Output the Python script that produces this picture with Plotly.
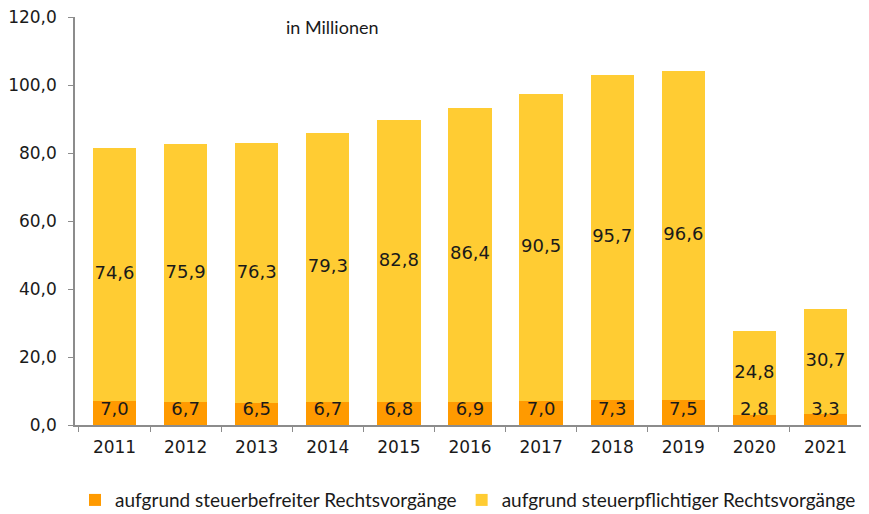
import plotly.graph_objects as go

years = ["2011", "2012", "2013", "2014", "2015", "2016", "2017", "2018", "2019", "2020", "2021"]
befreit = [7.0, 6.7, 6.5, 6.7, 6.8, 6.9, 7.0, 7.3, 7.5, 2.8, 3.3]
pflichtig = [74.6, 75.9, 76.3, 79.3, 82.8, 86.4, 90.5, 95.7, 96.6, 24.8, 30.7]
name_befreit = "aufgrund steuerbefreiter Rechtsvorgänge"
name_pflichtig = "aufgrund steuerpflichtiger Rechtsvorgänge"

ORANGE = "#FF9A00"
YELLOW = "#FFCC33"

def de(v):
    return f"{v:.1f}".replace(".", ",")

fig = go.Figure()
fig.add_bar(x=years, y=befreit, name=name_befreit, marker_color=ORANGE, marker_line_width=0)
fig.add_bar(x=years, y=pflichtig, name=name_pflichtig, marker_color=YELLOW, marker_line_width=0)

label_font = dict(family="DejaVu Sans", size=18, color="#1a1a1a")
fig.add_scatter(x=years, y=[max(b / 2, 4.2) for b in befreit], text=[de(b) for b in befreit],
                mode="text", textfont=label_font, showlegend=False, hoverinfo="skip")
fig.add_scatter(x=years, y=[b + p / 2 for b, p in zip(befreit, pflichtig)], text=[de(p) for p in pflichtig],
                mode="text", textfont=label_font, showlegend=False, hoverinfo="skip")

fig.add_annotation(text="in Millionen", x=0.265, y=0.975, xref="paper", yref="paper",
                   xanchor="left", yanchor="middle", showarrow=False,
                   font=dict(family="Lato", size=18, color="#1a1a1a"))

fig.update_layout(
    barmode="stack",
    bargap=0.39,
    width=869, height=514,
    margin=dict(l=67, r=12, t=9, b=97, autoexpand=False),
    plot_bgcolor="white", paper_bgcolor="white",
    separators=",.",
    legend=dict(orientation="h", x=0.0, y=-0.184, xanchor="left", yanchor="middle",
                traceorder="normal",
                font=dict(family="Lato", size=19, color="#1a1a1a"),
                itemwidth=30),
    font=dict(family="DejaVu Sans", size=17, color="#1a1a1a"),
)
fig.update_xaxes(type="category", showline=True, linecolor="#8c8c8c", linewidth=1.5,
                 ticks="outside", tickson="boundaries", ticklen=5, tickcolor="#8c8c8c",
                 showgrid=False, automargin=False, ticklabelstandoff=6,
                 tickfont=dict(family="DejaVu Sans", size=17))
fig.update_yaxes(range=[0, 120], dtick=20, tickformat=".1f", showline=True, linecolor="#8c8c8c",
                 linewidth=1.5, ticks="outside", ticklen=5, tickcolor="#8c8c8c", showgrid=False,
                 zeroline=False, automargin=False, ticklabelstandoff=8, ticklabeloverflow="allow",
                 tickfont=dict(family="DejaVu Sans", size=17))

fig.write_html("out.html")
